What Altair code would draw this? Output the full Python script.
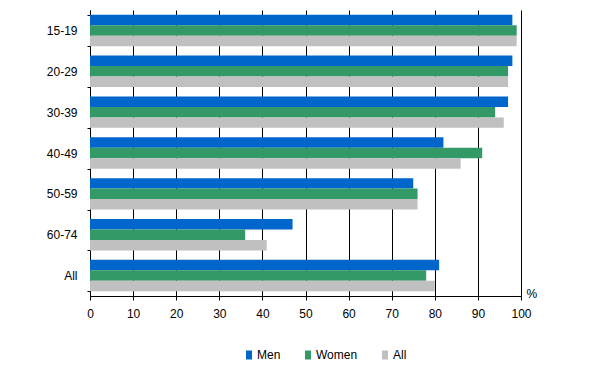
import altair as alt
import pandas as pd

categories = ["15-19", "20-29", "30-39", "40-49", "50-59", "60-74", "All"]
series = ["Men", "Women", "All"]
men = [98, 98, 97, 82, 75, 47, 81]
women = [99, 97, 94, 91, 76, 36, 78]
all_ = [99, 97, 96, 86, 76, 41, 80]
colors = ["#0066CC", "#339966", "#C0C0C0"]
x_ticks = [0, 10, 20, 30, 40, 50, 60, 70, 80, 90, 100]

rows = []
for i, c in enumerate(categories):
    for s, vals in zip(series, [men, women, all_]):
        rows.append({"group": c, "series": s, "value": vals[i]})
df = pd.DataFrame(rows)

FONT = "Liberation Sans"

chart = alt.Chart(df).mark_bar(strokeWidth=0).encode(
    y=alt.Y(
        "group:N",
        sort=categories,
        scale=alt.Scale(paddingInner=0.23, paddingOuter=0.115),
        axis=alt.Axis(
            title=None, tickBand="extent", tickSize=3, labelPadding=10,
            domainColor="black", tickColor="black", labelColor="black",
            labelFontSize=12, labelFont=FONT, grid=False,
        ),
    ),
    yOffset=alt.YOffset(
        "series:N", sort=series,
        scale=alt.Scale(paddingInner=0, paddingOuter=0),
    ),
    x=alt.X(
        "value:Q",
        scale=alt.Scale(domain=[0, 100], nice=False),
        axis=alt.Axis(
            values=x_ticks, grid=True, gridColor="black", gridOpacity=1,
            tickSize=4, tickColor="black", domainColor="black",
            labelColor="black", labelFontSize=12, labelFont=FONT,
            labelPadding=8, labelFlush=False,
            title="%", titleX=436, titleY=1, titleAlign="left",
            titleBaseline="alphabetic", titleFontWeight="normal",
            titleFontSize=12, titleFont=FONT, titleColor="black",
        ),
    ),
    color=alt.Color(
        "series:N", sort=series,
        scale=alt.Scale(domain=series, range=colors),
        legend=alt.Legend(
            title=None, orient="none", direction="horizontal",
            legendX=153, legendY=339,
            symbolType="M-0.667,-1L0.667,-1L0.667,1L-0.667,1Z",
            symbolSize=81, symbolStrokeWidth=0, symbolOpacity=1,
            labelFontSize=12, labelFont=FONT, labelColor="black",
            labelOffset=2, columnPadding=21,
        ),
    ),
).properties(
    width=431, height=286,
    padding={"left": 82, "top": 2, "right": 40, "bottom": 80},
    autosize="none",
).configure_view(strokeWidth=0)

chart.save("out.html", embed_options={"renderer": "svg", "actions": False})
